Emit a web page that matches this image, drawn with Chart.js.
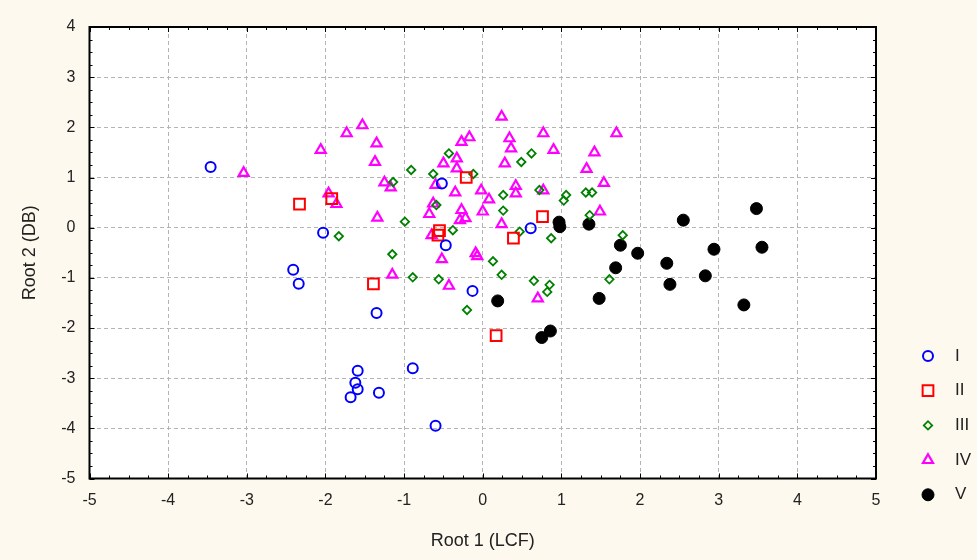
<!DOCTYPE html>
<html>
<head>
<meta charset="utf-8">
<script src="https://cdn.jsdelivr.net/npm/chart.js@4/dist/chart.umd.min.js"></script>
<style>
  html, body { margin: 0; padding: 0; background: #fdf9ef; }
  #wrap { width: 977px; height: 560px; }
</style>
</head>
<body>
<div id="wrap"><canvas id="rootChart" width="977" height="560"></canvas></div>
<script>
// group labels
var groupNames = ['I', 'II', 'III', 'IV', 'V'];

// [Root 1, Root 2]
var groupI = [[-3.46,1.21],[-2.03,-0.10],[-2.41,-0.84],[-2.34,-1.12],[-1.35,-1.70],[-0.52,0.88],
  [-0.47,-0.35],[0.61,-0.01],[-0.13,-1.26],[-0.89,-2.80],[-1.59,-2.85],[-1.62,-3.09],
  [-1.59,-3.22],[-1.68,-3.38],[-1.32,-3.29],[-0.60,-3.95]];
var groupII = [[-2.33,0.47],[-1.92,0.58],[-0.21,1.00],[0.76,0.22],[-0.55,-0.06],[-0.57,-0.15],
  [0.39,-0.21],[-1.39,-1.12],[0.17,-2.15]];
var groupIII = [[-1.83,-0.17],[-0.43,1.48],[0.62,1.48],[0.49,1.31],[-0.91,1.15],[-0.63,1.07],
  [-0.12,1.07],[-1.14,0.91],[0.26,0.65],[0.72,0.75],[1.03,0.54],[1.06,0.65],[-0.59,0.45],
  [0.26,0.34],[-0.99,0.12],[-0.38,-0.05],[0.47,-0.08],[0.87,-0.21],[1.31,0.70],[1.39,0.70],
  [1.36,0.25],[1.78,-0.15],[-1.15,-0.53],[0.13,-0.67],[0.24,-0.94],[-0.89,-0.99],[-0.56,-1.03],
  [-0.20,-1.64],[0.65,-1.06],[0.85,-1.14],[0.82,-1.28],[1.61,-1.03]];
var groupIV = [[-3.04,1.09],[-1.53,2.04],[-1.73,1.88],[-1.35,1.68],[-2.06,1.55],[-1.37,1.31],
  [-1.96,0.68],[-1.86,0.47],[-1.34,0.20],[0.24,2.21],[-0.27,1.71],[-0.17,1.80],[0.34,1.78],
  [0.36,1.58],[0.77,1.88],[0.90,1.55],[-0.33,1.38],[-0.50,1.28],[0.28,1.28],[-0.33,1.18],
  [-0.60,0.85],[-1.25,0.90],[-1.17,0.80],[-0.35,0.70],[-0.02,0.74],[0.08,0.56],[0.42,0.83],
  [0.42,0.68],[0.77,0.74],[-0.63,0.48],[-0.68,0.27],[-0.27,0.35],[-0.22,0.19],[-0.29,0.15],
  [0.00,0.32],[0.24,0.07],[-0.65,-0.15],[1.70,1.88],[1.42,1.50],[1.32,1.17],[1.54,0.89],
  [1.49,0.32],[-0.52,-0.63],[-0.09,-0.51],[-0.07,-0.57],[-1.15,-0.94],[-0.43,-1.16],[0.70,-1.41]];
var groupV = [[0.97,0.11],[0.98,0.02],[1.35,0.07],[1.75,-0.35],[1.97,-0.51],[1.69,-0.80],
  [1.48,-1.41],[2.55,0.15],[2.34,-0.71],[2.38,-1.13],[2.94,-0.43],[2.83,-0.96],[3.48,0.38],
  [3.55,-0.39],[3.32,-1.54],[0.19,-1.46],[0.86,-2.06],[0.75,-2.19]];

var xTicks = [-5, -4, -3, -2, -1, 0, 1, 2, 3, 4, 5];
var yTicks = [-5, -4, -3, -2, -1, 0, 1, 2, 3, 4];

var FONT = '"Liberation Sans Narrow", "Liberation Sans", Arial, sans-serif';

function toPoints(arr) {
    return arr.map(function (p) { return {x: p[0], y: p[1]}; });
}

var styles = [
    {data: groupI, pointStyle: 'circle', radius: 5, color: '#0000ff', fill: 'rgba(0,0,0,0)', bw: 2},
    {data: groupII, pointStyle: 'rect', radius: 7.6, color: '#ff0000', fill: 'rgba(0,0,0,0)', bw: 2},
    {data: groupIII, pointStyle: 'rectRot', radius: 4.2, color: '#008000', fill: 'rgba(0,0,0,0)', bw: 1.8},
    {data: groupIV, pointStyle: 'triangle', radius: 5.8, color: '#ff00ff', fill: 'rgba(0,0,0,0)', bw: 2.2},
    {data: groupV, pointStyle: 'circle', radius: 6, color: '#000000', fill: '#000000', bw: 1}
];

var datasets = styles.map(function (s, i) {
    return {
        label: groupNames[i],
        data: toPoints(s.data),
        pointStyle: s.pointStyle,
        pointRadius: s.radius,
        pointHoverRadius: s.radius,
        borderColor: s.color,
        backgroundColor: s.fill,
        pointBorderWidth: s.bw,
        borderWidth: s.bw
    };
});

// cream page, white plot, black frame with inward ticks, legend on the right
var framePlugin = {
    id: 'frame',
    beforeDraw: function (chart) {
        var ctx = chart.ctx, a = chart.chartArea;
        ctx.save();
        ctx.fillStyle = '#fdf9ef';
        ctx.fillRect(0, 0, chart.width, chart.height);
        ctx.fillStyle = '#ffffff';
        ctx.fillRect(a.left, a.top, a.right - a.left, a.bottom - a.top);
        ctx.restore();
    },
    afterDraw: function (chart) {
        var ctx = chart.ctx, a = chart.chartArea;
        var xs = chart.scales.x, ys = chart.scales.y;
        ctx.save();
        ctx.strokeStyle = '#000';
        ctx.lineWidth = 1;
        ctx.beginPath();
        for (var v = -5; v <= 5.001; v += 0.25) {
            var px = Math.round(xs.getPixelForValue(v)) + 0.5;
            var len = Math.abs(v - Math.round(v)) < 0.01 ? 5 : 3;
            ctx.moveTo(px, a.bottom); ctx.lineTo(px, a.bottom - len);
            ctx.moveTo(px, a.top); ctx.lineTo(px, a.top + len);
        }
        for (var w = -5; w <= 4.001; w += 0.25) {
            var py = Math.round(ys.getPixelForValue(w)) + 0.5;
            var l2 = Math.abs(w - Math.round(w)) < 0.01 ? 5 : 3;
            ctx.moveTo(a.left, py); ctx.lineTo(a.left + l2, py);
            ctx.moveTo(a.right, py); ctx.lineTo(a.right - l2, py);
        }
        ctx.stroke();
        ctx.lineWidth = 2;
        ctx.strokeRect(a.left, a.top, a.right - a.left, a.bottom - a.top);

        // legend
        var lx = 928, ly = 356, step = 34.7;
        chart.data.datasets.forEach(function (ds, i) {
            var y = ly + i * step;
            ctx.strokeStyle = ds.borderColor;
            ctx.fillStyle = ds.backgroundColor;
            ctx.lineWidth = ds.pointBorderWidth;
            Chart.helpers.drawPoint(ctx, {
                pointStyle: ds.pointStyle,
                radius: ds.pointRadius,
                borderWidth: ds.pointBorderWidth,
                rotation: 0
            }, lx, y);
            ctx.fillStyle = '#222';
            ctx.font = '17px ' + FONT;
            ctx.textBaseline = 'middle';
            ctx.textAlign = 'left';
            ctx.fillText(ds.label, 955, y);
        });
        ctx.restore();
    }
};

var ctx = document.getElementById('rootChart').getContext('2d');
var rootChart = new Chart(ctx, {
    type: 'scatter',
    data: {datasets: datasets},
    options: {
        responsive: false,
        animation: false,
        events: [],
        layout: {padding: {top: 27, right: 101, left: 0, bottom: 0}},
        plugins: {legend: {display: false}, tooltip: {enabled: false}},
        scales: {
            x: {
                min: -5, max: 5,
                afterBuildTicks: function (s) { s.ticks = xTicks.map(function (v) { return {value: v}; }); },
                afterFit: function (s) { s.height = 81.5; },
                ticks: {color: '#222', padding: 12, font: {size: 16, family: FONT}},
                grid: {color: '#b4b4b4', lineWidth: 1, drawTicks: false},
                border: {display: false, dash: [4, 3]},
                title: {display: true, text: 'Root 1 (LCF)', color: '#222',
                    font: {size: 18, family: FONT}, padding: {top: 0, bottom: 8}}
            },
            y: {
                min: -5, max: 4,
                afterBuildTicks: function (s) { s.ticks = yTicks.map(function (v) { return {value: v}; }); },
                afterFit: function (s) { s.width = 89.5; },
                ticks: {color: '#222', padding: 14, font: {size: 16, family: FONT}},
                grid: {color: '#b4b4b4', lineWidth: 1, drawTicks: false},
                border: {display: false, dash: [4, 3]},
                title: {display: true, text: 'Root 2 (DB)', color: '#222',
                    font: {size: 18, family: FONT}, padding: {top: 19, bottom: 0}}
            }
        }
    },
    plugins: [framePlugin]
});
</script>
</body>
</html>
